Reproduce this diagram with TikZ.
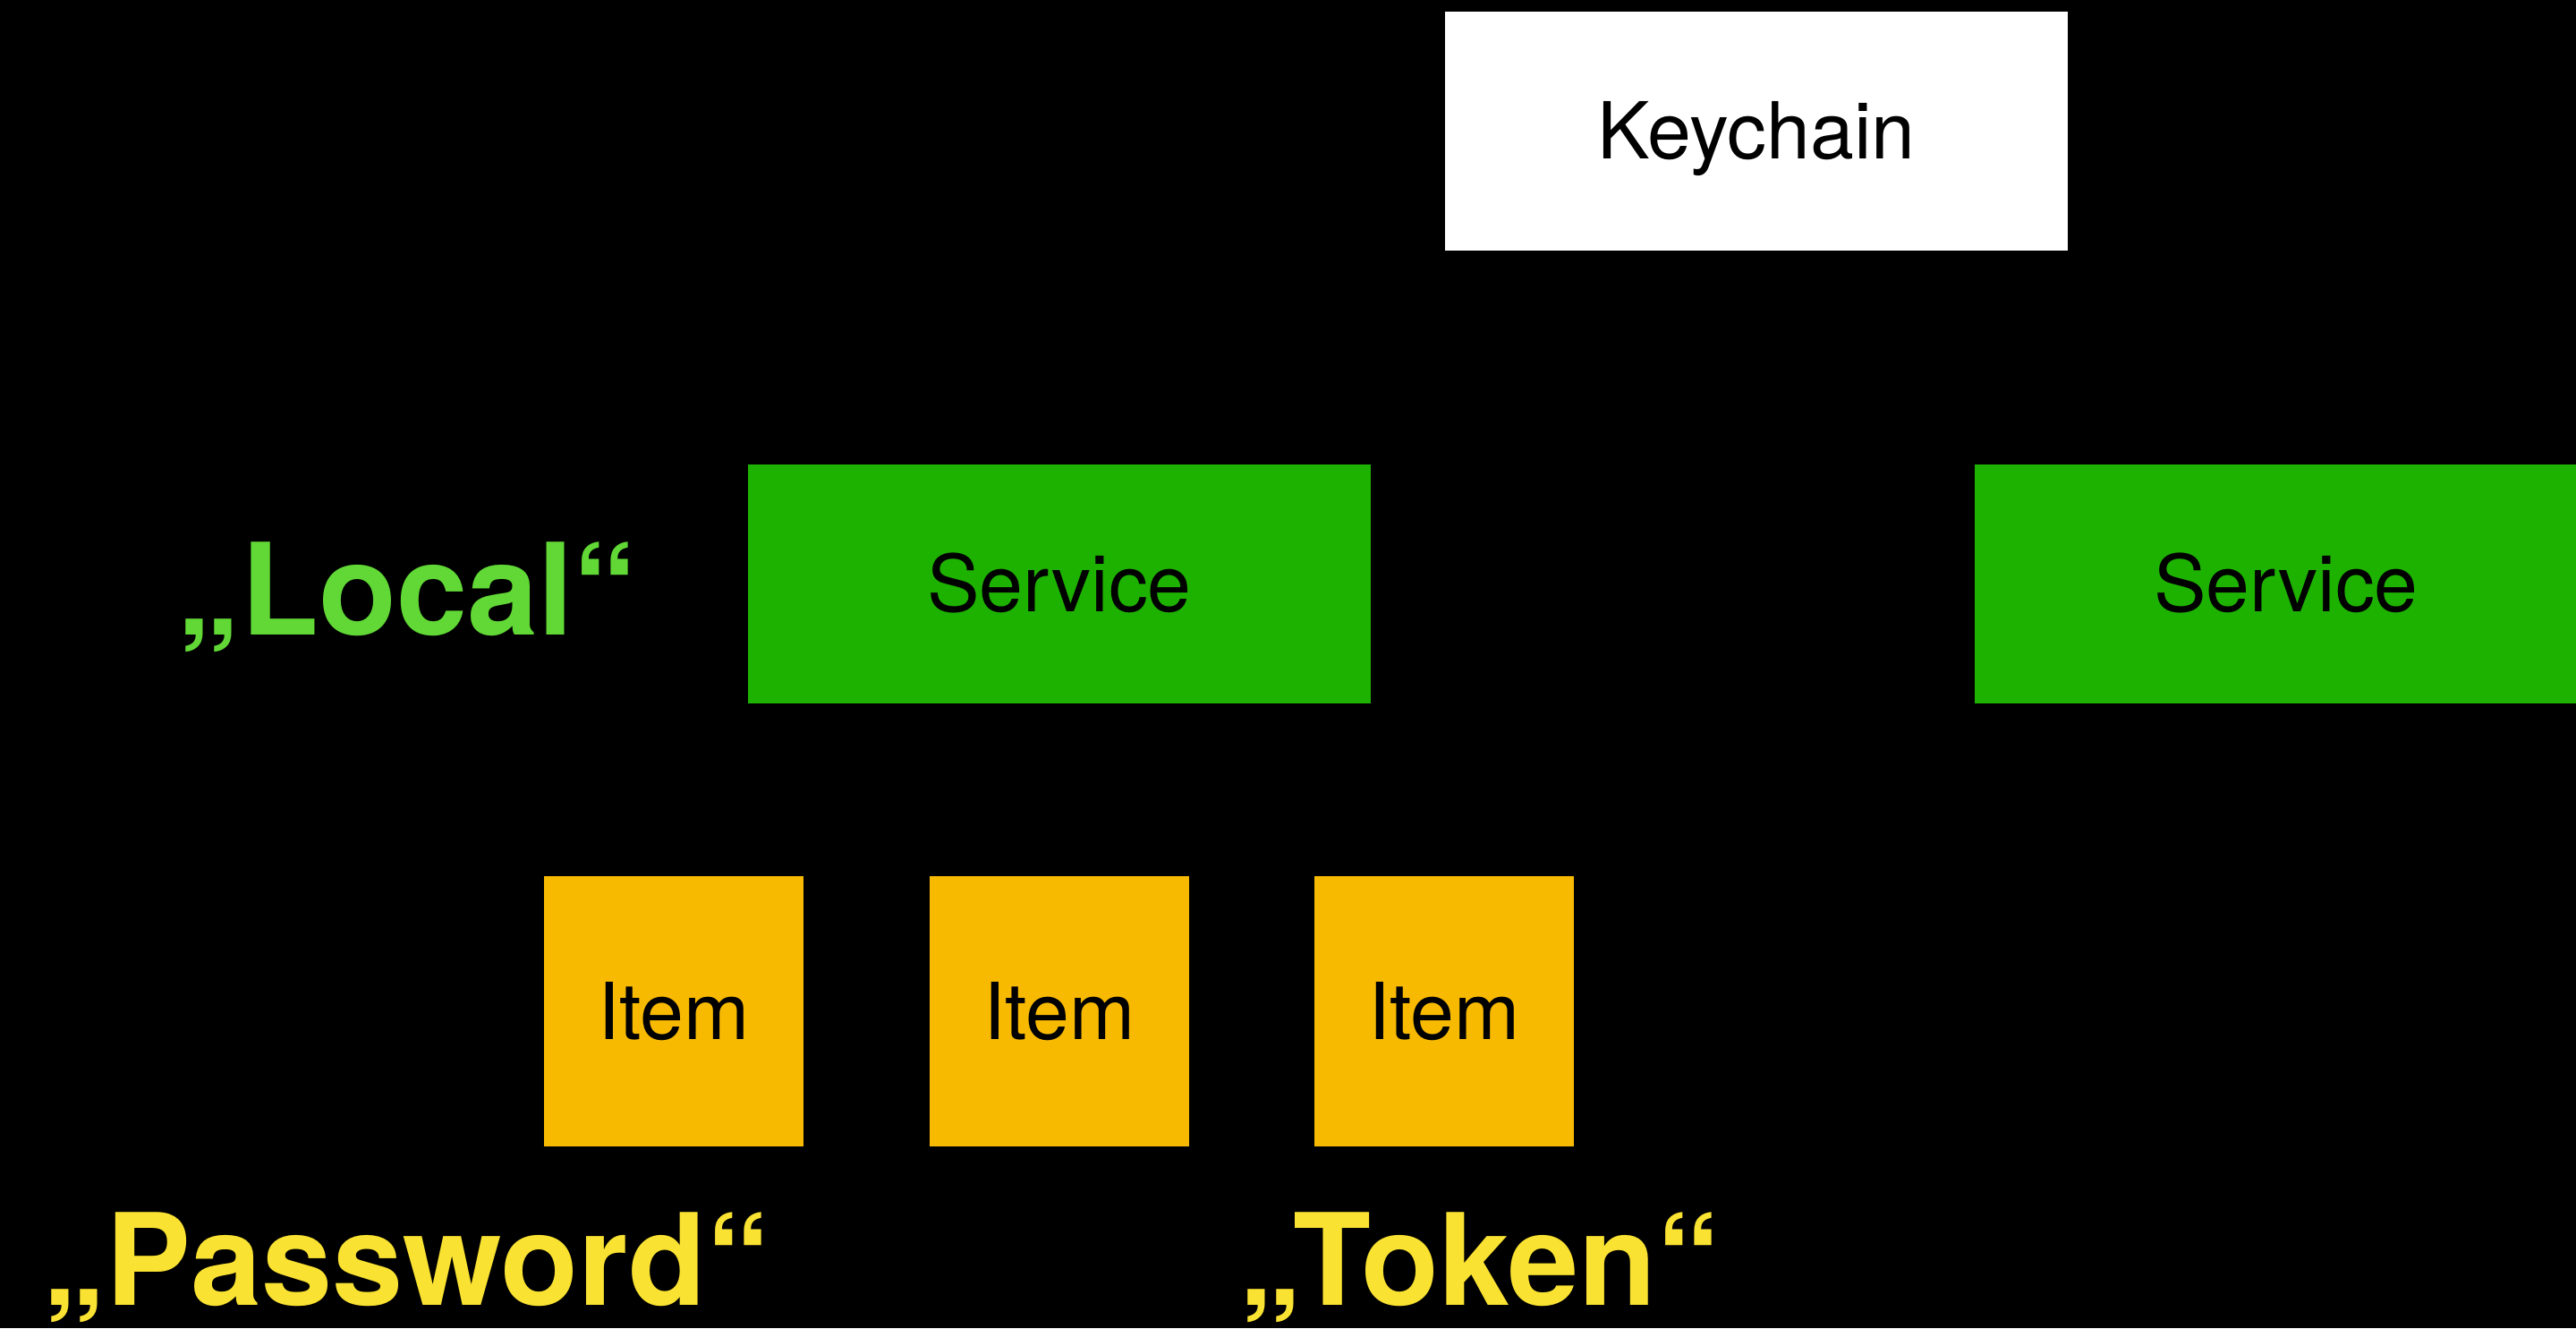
\documentclass[tikz,border=0pt]{standalone}
\usepackage{fontspec}
\setmainfont{TeX Gyre Heros}

\definecolor{svcgreen}{RGB}{29,177,0}
\definecolor{lblgreen}{RGB}{97,216,54}
\definecolor{itemorange}{RGB}{248,186,0}
\definecolor{lblyellow}{RGB}{250,226,50}

\tikzset{
  box/.style={inner sep=0pt,text depth=0pt,text height=17.9pt,
    font=\fontsize{25}{30}\selectfont,text=black},
  keybox/.style={box,fill=white,minimum width=6.96cm,minimum height=2.67cm},
  svcbox/.style={box,fill=svcgreen,minimum width=6.96cm,minimum height=2.67cm},
  itembox/.style={box,fill=itemorange,minimum width=2.9cm,minimum height=3.02cm},
  tag/.style={anchor=base,inner sep=0pt,font=\fontsize{40.5}{48}\selectfont\bfseries},
}

\begin{document}
\begin{tikzpicture}
  \fill[black] (0,0) rectangle (28.79,-14.84);
  \useasboundingbox (0,0) rectangle (28.79,-14.84);

  \node[keybox] (keychain) at (19.63,-1.465) {Keychain};

  \node[svcbox] (svclocal) at (11.84,-6.525) {Service};
  \begin{scope}
    \clip (0,0) rectangle (28.79,-14.84);
    \node[svcbox] (svcother) at (25.55,-6.525) {Service};
  \end{scope}

  \foreach \x [count=\i] in {7.53,11.84,16.14} {
    \node[itembox] (item\i) at (\x,-11.30) {Item};
  }

  \node[tag,text=lblgreen] (local) at (4.55,-7.09) {„Local“};
  \node[tag,text=lblyellow] (password) at (4.54,-14.58) {„Password“};
  \node[tag,text=lblyellow] (token) at (16.54,-14.58) {„Token“};
\end{tikzpicture}
\end{document}
